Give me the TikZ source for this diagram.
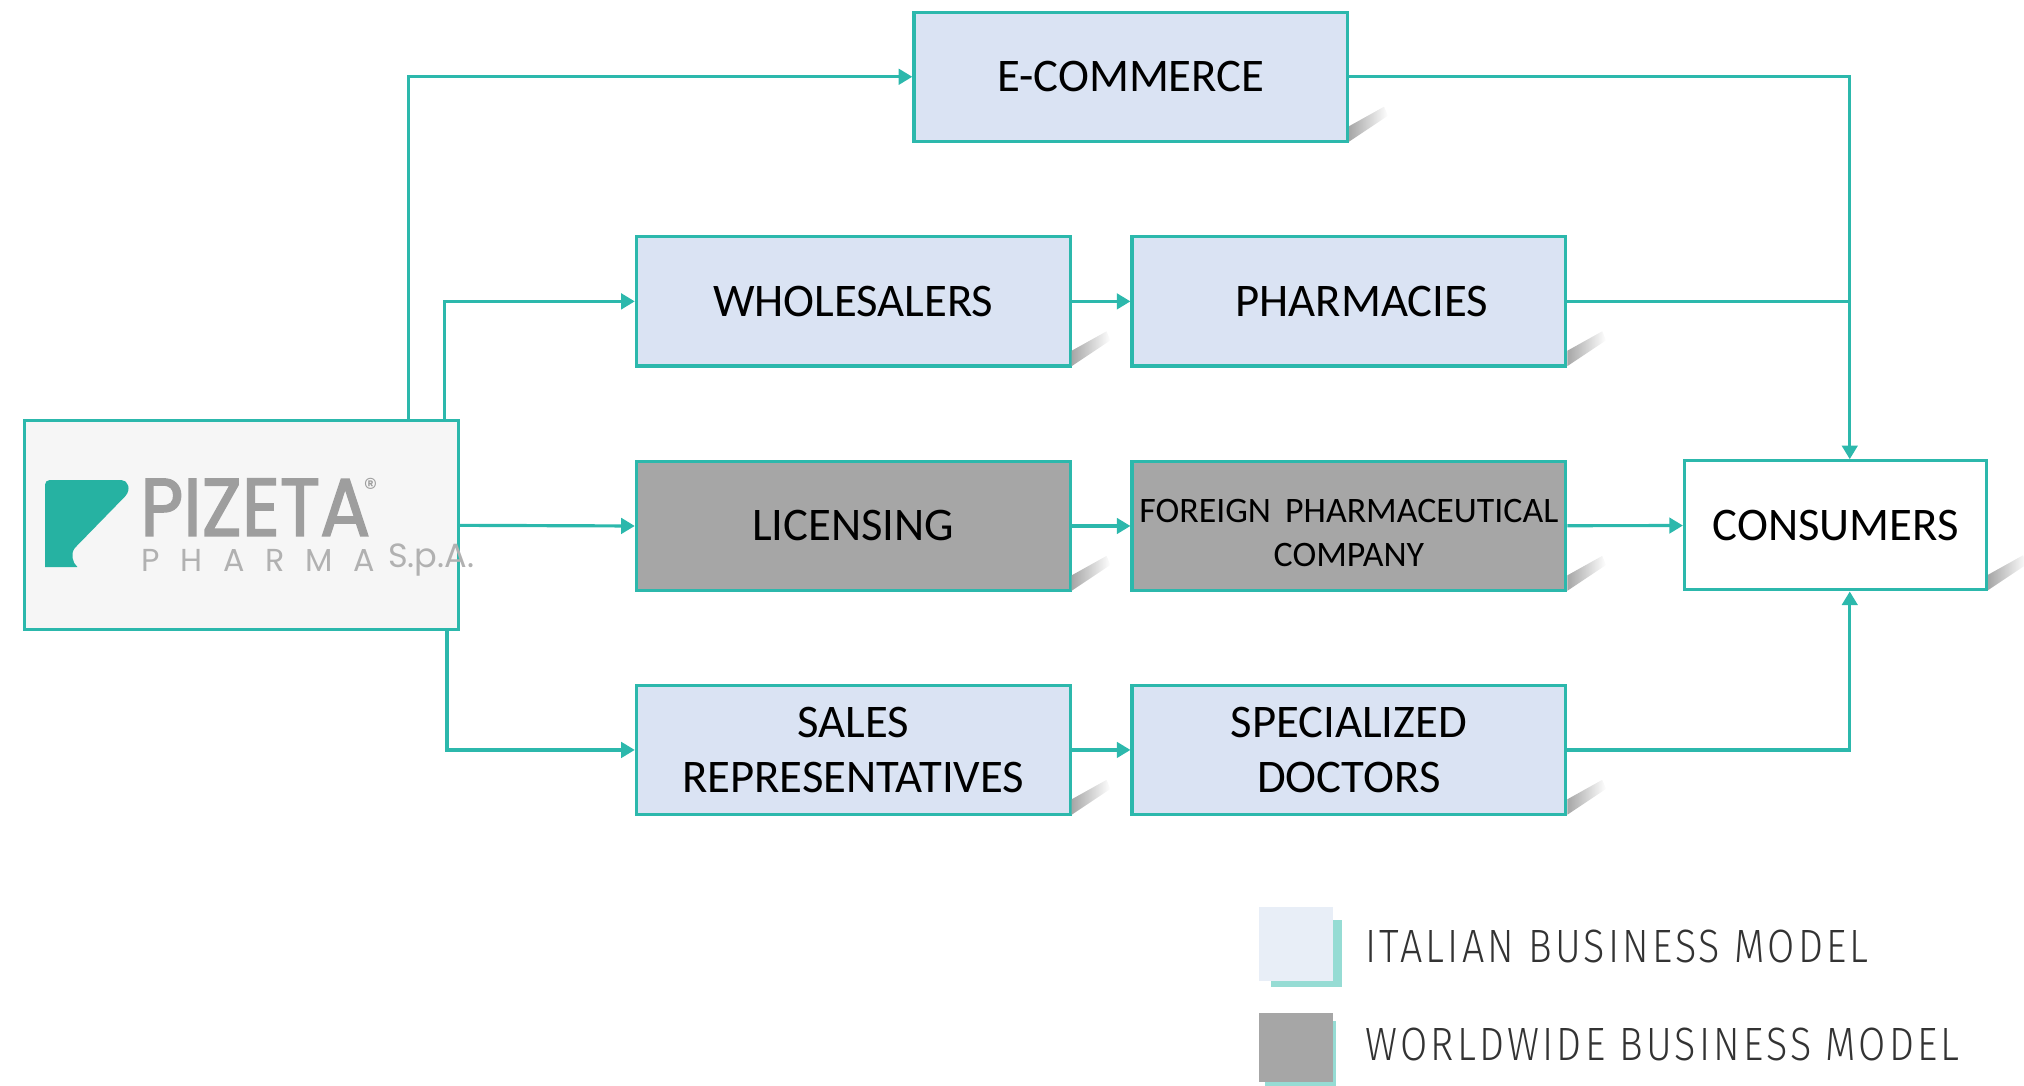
\documentclass[tikz,border=0pt]{standalone}
\usepackage{fontspec}
\setmainfont{Carlito}
\newfontfamily\legendfont{Fira Sans Light}
\newfontfamily\logofont{Poppins}
\usetikzlibrary{arrows.meta,fadings}
\definecolor{flowteal}{RGB}{44,184,172}
\definecolor{italyblue}{RGB}{218,227,243}
\definecolor{worldgray}{RGB}{166,166,166}
\definecolor{logoback}{RGB}{246,246,246}
\definecolor{logoteal}{RGB}{38,178,162}
\definecolor{logogray}{RGB}{158,158,158}
\definecolor{legendblue}{RGB}{232,238,247}
\definecolor{legendteal}{RGB}{150,220,212}
\definecolor{legendtext}{RGB}{51,51,51}
\tikzset{
  box/.style={draw=flowteal, line width=0.7pt, minimum width=3.36cm, minimum height=1cm,
    inner sep=0pt, align=center, font=\fontsize{10.3}{12.3}\selectfont},
  italy/.style={box, fill=italyblue},
  world/.style={box, fill=worldgray},
  flow/.style={draw=flowteal, line width=0.7pt, -{Triangle[length=3pt,width=3.4pt]}},
  link/.style={draw=flowteal, line width=0.7pt},
  swatch/.style={minimum width=0.58cm, minimum height=0.57cm, inner sep=0pt},
  keylabel/.style={anchor=west, inner sep=0pt, text=legendtext,
    font=\legendfont\fontsize{10.3}{12}\selectfont},
}
\newcommand{\boxshadow}[1]{%
  \fill[black!35, path fading=east] ([yshift=0.3pt]#1.south east) -- ++(0.30,0.20)
    -- ++(-0.03,0.07) -- ([yshift=0.13cm]#1.south east) -- cycle;}
\begin{document}
\begin{tikzpicture}
  \useasboundingbox (0,0) rectangle (15.68,8.41);
  % logo
  \node[box, fill=logoback, minimum height=1.62cm] (logo) at (1.87,4.34) {};
  \fill[logoteal] (0.349,4.017) -- (0.349,4.66) [rounded corners=1pt] -- (0.349,4.691) -- (0.906,4.691)
    [sharp corners] .. controls (0.99,4.691) and (1.02,4.62) .. (0.97,4.565)
    -- (0.58,4.165) .. controls (0.545,4.12) and (0.56,4.05) .. (0.60,4.017) -- cycle;
  \node[anchor=west, inner sep=0pt, text=logogray] (logoname) at (1.08,4.48)
    {\scalebox{0.91}[1]{\logofont\addfontfeatures{FakeBold=2}\fontsize{18}{18}\selectfont PIZETA}};
  \node[inner sep=0pt, text=logogray] (logoreg) at (2.87,4.63) {\logofont\fontsize{6}{6}\selectfont ®};
  \node[anchor=west, inner sep=0pt, text=logogray!80] (logopharma) at (1.09,4.07)
    {\logofont\fontsize{7}{7}\selectfont\spaceskip=0.16cm P H A R M A};
  \node[anchor=west, inner sep=0pt, text=logogray!80] (logospa) at (3.00,4.07)
    {\logofont\fontsize{7.4}{7.4}\selectfont S.p.A.};
  % channels
  \node[italy] (ecom) at (8.76,7.815) {E-COMMERCE};
  \node[italy] (whole) at (6.61,6.075) {WHOLESALERS};
  \node[italy] (pharm) at (10.45,6.075) {\hspace*{0.2cm}PHARMACIES};
  \node[world] (lic) at (6.61,4.335) {LICENSING};
  \node[world, font=\fontsize{7.9}{9.7}\selectfont] (foreign) at (10.45,4.335)
    {\rule{0pt}{8pt}FOREIGN\, PHARMACEUTICAL\\COMPANY};
  \node[box, fill=white, minimum width=2.34cm] (cons) at (14.22,4.34) {CONSUMERS};
  \node[italy] (sales) at (6.61,2.60) {SALES\\REPRESENTATIVES};
  \node[italy] (spec) at (10.45,2.60) {SPECIALIZED\\DOCTORS};
  \boxshadow{ecom}
  \boxshadow{whole}
  \boxshadow{pharm}
  \boxshadow{lic}
  \boxshadow{foreign}
  \boxshadow{cons}
  \boxshadow{sales}
  \boxshadow{spec}
  \coordinate (drop) at ([xshift=0.11cm]cons.north);
  \coordinate (rise) at ([xshift=0.11cm]cons.south);
  \begin{scope}
    \draw[flow] ([xshift=-0.40cm]logo.north east) |- (ecom.west);
    \draw[flow] ([xshift=-0.12cm]logo.north east) |- (whole.west);
    \draw[flow] (logo.east) -- (lic.west);
    \draw[flow] ([xshift=-0.10cm]logo.south east) |- (sales.west);
    \draw[flow] (whole) to (pharm);
    \draw[flow] (lic) to (foreign);
    \draw[flow] (sales) to (spec);
    \draw[flow] (foreign) to (cons);
    \draw[flow] (ecom.east) -| (drop);
    \draw[link] (pharm.east) -- (pharm.east -| drop);
    \draw[flow] (spec.east) -| (rise);
  \end{scope}
  % legend
  \fill[legendteal] (9.85,0.76) rectangle (10.40,1.28);
  \node[swatch, fill=legendblue] (keyitaly) at (10.04,1.095) {};
  \fill[legendteal] (9.80,0.0) rectangle (10.35,0.50);
  \node[swatch, fill=worldgray, minimum height=0.53cm] (keyworld) at (10.04,0.295) {};
  \node[keylabel] (keyitalytext) at (10.57,1.08) {\scalebox{0.845}[1]{\addfontfeatures{LetterSpace=8}ITALIAN BUSINESS MODEL}};
  \node[keylabel] (keyworldtext) at (10.57,0.32) {\scalebox{0.845}[1]{\addfontfeatures{LetterSpace=8}WORLDWIDE BUSINESS MODEL}};
\end{tikzpicture}
\end{document}
